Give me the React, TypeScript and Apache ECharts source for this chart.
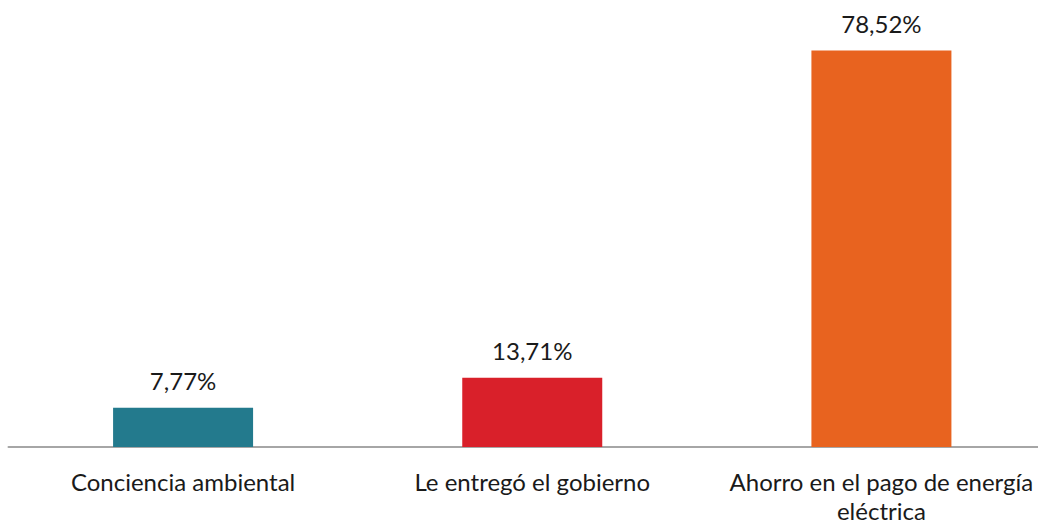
import React, { useEffect, useRef } from "react";
import * as echarts from "echarts";

const categories = ["Conciencia ambiental", "Le entregó el gobierno", "Ahorro en el pago de energía\neléctrica"];
const values = [7.77, 13.71, 78.52];
const colors = ["#237A8D", "#D9202A", "#E8631F"];

export default function App() {
  const ref = useRef<HTMLDivElement>(null);
  useEffect(() => {
    const chart = echarts.init(ref.current!, null, { renderer: "svg" });
    chart.setOption({
      animation: false,
      grid: { left: 8.5, right: 0, top: 43, bottom: 76, containLabel: false, outerBoundsMode: "none" },
      xAxis: {
        type: "category",
        data: categories,
        axisLine: { lineStyle: { color: "#A6A6A6", width: 2 } },
        axisTick: { show: false },
        axisLabel: {
          interval: 0,
          color: "#1a1a1a",
          fontFamily: "Lato",
          fontSize: 24,
          lineHeight: 29,
          margin: 20,
        },
      },
      yAxis: { type: "value", min: 0, max: 80, show: false, splitLine: { show: false } },
      series: [
        {
          type: "bar",
          barWidth: 140,
          data: values.map((v, i) => ({ value: v, itemStyle: { color: colors[i] } })),
          label: {
            show: true,
            position: "top",
            distance: 15,
            color: "#1a1a1a",
            fontFamily: "Lato",
            fontSize: 24,
            formatter: (p: any) => p.value.toFixed(2).replace(".", ",") + "%",
          },
        },
      ],
    });
    return () => chart.dispose();
  }, []);
  return (
    <div style={{ position: "absolute", left: 0, top: 0, width: 1038, height: 523, overflow: "hidden" }}>
      <div ref={ref} style={{ width: 1056, height: 523 }} />
    </div>
  );
}
